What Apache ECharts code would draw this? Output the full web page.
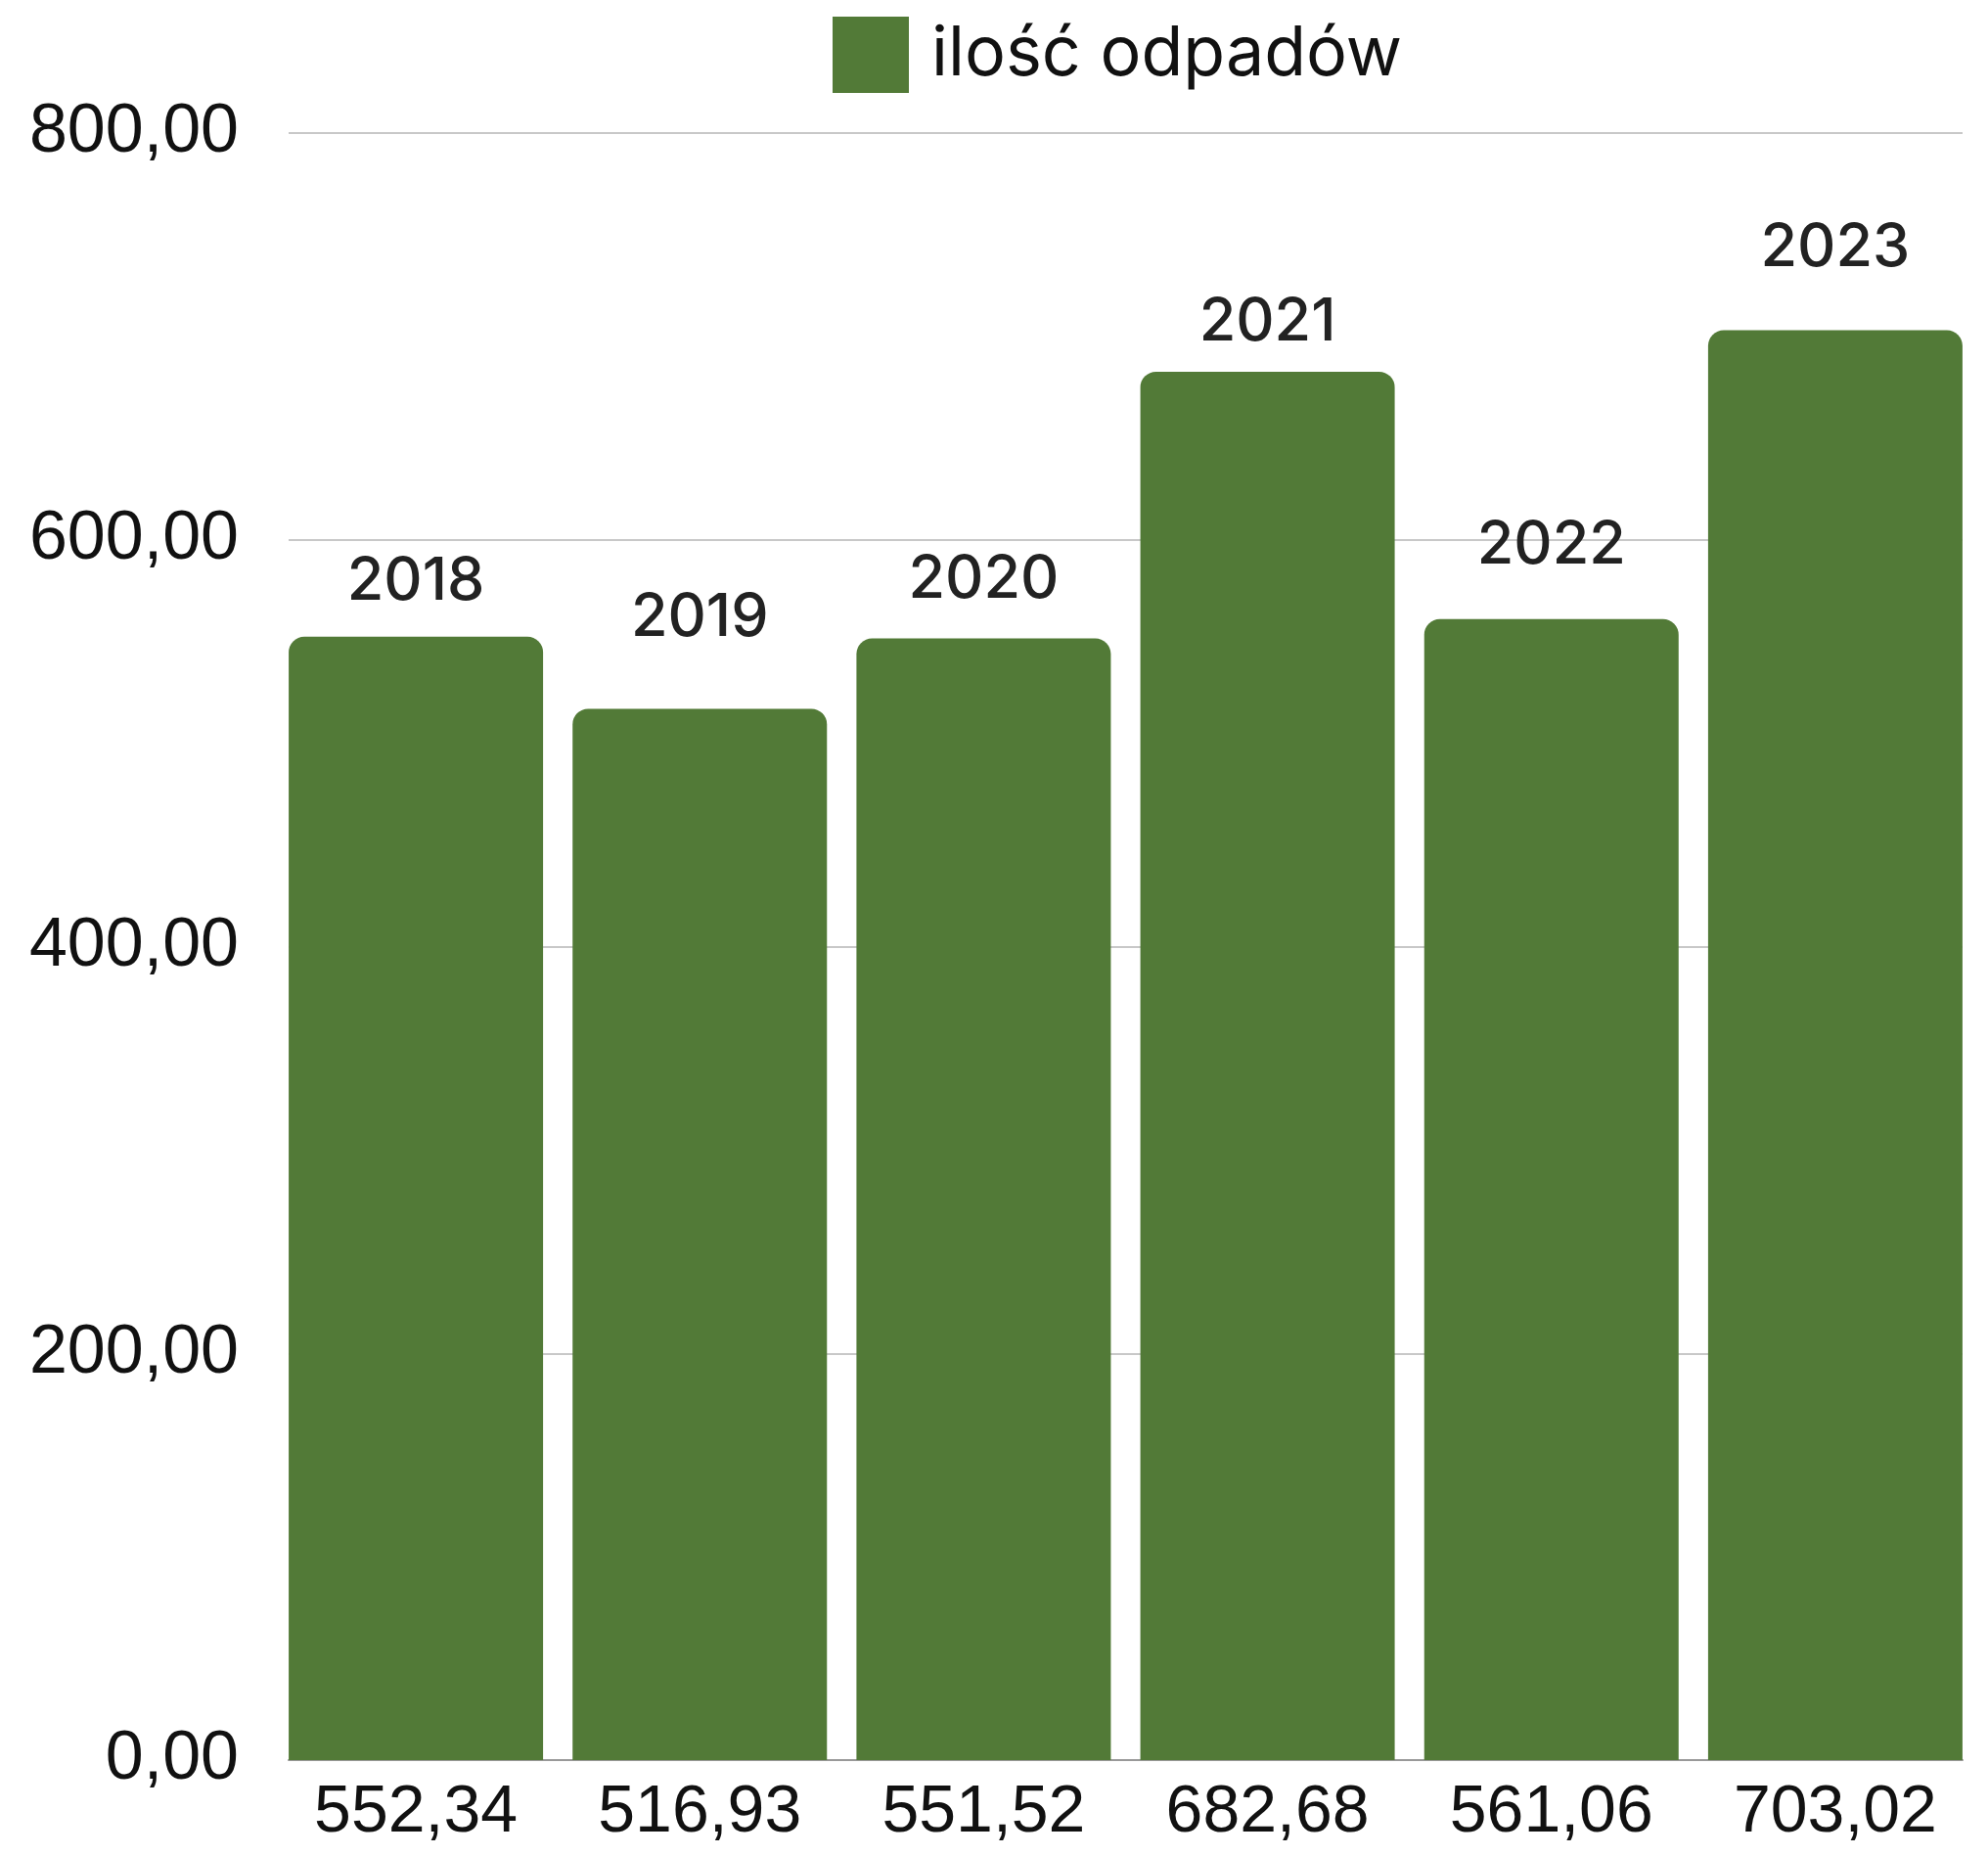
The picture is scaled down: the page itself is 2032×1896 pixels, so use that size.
<!DOCTYPE html>
<html>
<head>
<meta charset="utf-8">
<script src="https://cdn.jsdelivr.net/npm/echarts@6/dist/echarts.min.js"></script>
<style>html,body{margin:0;padding:0;background:#fff}#c{width:2032px;height:1896px}</style>
</head>
<body>
<div id="c"></div>
<script>
const categories = ['552,34', '516,93', '551,52', '682,68', '561,06', '703,02'];
const values = [552.34, 516.93, 551.52, 682.68, 561.06, 703.02];
const years = ['2018', '2019', '2020', '2021', '2022', '2023'];
const seriesName = 'ilość odpadów';
const yTicks = { min: 0, max: 800, interval: 200 };
// label gap above each bar (style only)
const labelGap = [26, 62, 29, 20, 45, 53];

const chart = echarts.init(document.getElementById('c'), null, { renderer: 'canvas' });
chart.setOption({
  animation: false,
  backgroundColor: '#ffffff',
  legend: {
    top: 12,
    left: 846,
    itemWidth: 78,
    itemHeight: 78,
    icon: 'rect',
    data: [seriesName],
    textStyle: { fontFamily: 'Inter, "Noto Sans", sans-serif', fontSize: 70, color: '#111', padding: [0, 0, 0, 18] }
  },
  grid: [
    { left: 295, right: 26, top: 136, bottom: 97, containLabel: false },
    { left: 280, right: 11, top: 136, bottom: 97, containLabel: false }
  ],
  xAxis: [
    {
      gridIndex: 0,
      type: 'category',
      data: categories,
      axisLine: { show: true, lineStyle: { color: '#999', width: 2 } },
      axisTick: { show: false },
      axisLabel: { show: false }
    },
    {
      gridIndex: 1,
      type: 'category',
      data: categories,
      axisLine: { show: false },
      axisTick: { show: false },
      axisLabel: { fontFamily: '"Liberation Sans", Arial, sans-serif', fontSize: 68, color: '#111', margin: 20 }
    }
  ],
  yAxis: [
    {
      gridIndex: 0,
      type: 'value',
      min: yTicks.min, max: yTicks.max, interval: yTicks.interval,
      axisLine: { show: false },
      axisTick: { show: false },
      splitLine: { lineStyle: { color: '#c8c8c8', width: 2 } },
      axisLabel: {
        fontFamily: '"Liberation Sans", Arial, sans-serif', fontSize: 70, color: '#111', margin: 51,
        formatter: v => v.toFixed(2).replace('.', ',')
      }
    },
    {
      gridIndex: 1,
      type: 'value',
      min: yTicks.min, max: yTicks.max, interval: yTicks.interval,
      show: false,
      splitLine: { show: false }
    }
  ],
  series: [{
    name: seriesName,
    type: 'bar',
    xAxisIndex: 1,
    yAxisIndex: 1,
    data: values.map((v, i) => ({ value: v, label: { distance: labelGap[i] } })),
    barWidth: 260,
    itemStyle: { color: '#527a37', borderRadius: [16, 16, 0, 0] },
    label: {
      show: true,
      position: 'top',
      fontFamily: 'Inter, "Noto Sans", sans-serif',
      fontWeight: 500,
      fontSize: 61,
      color: '#222',
      formatter: p => years[p.dataIndex]
    }
  }]
});
</script>
</body>
</html>
